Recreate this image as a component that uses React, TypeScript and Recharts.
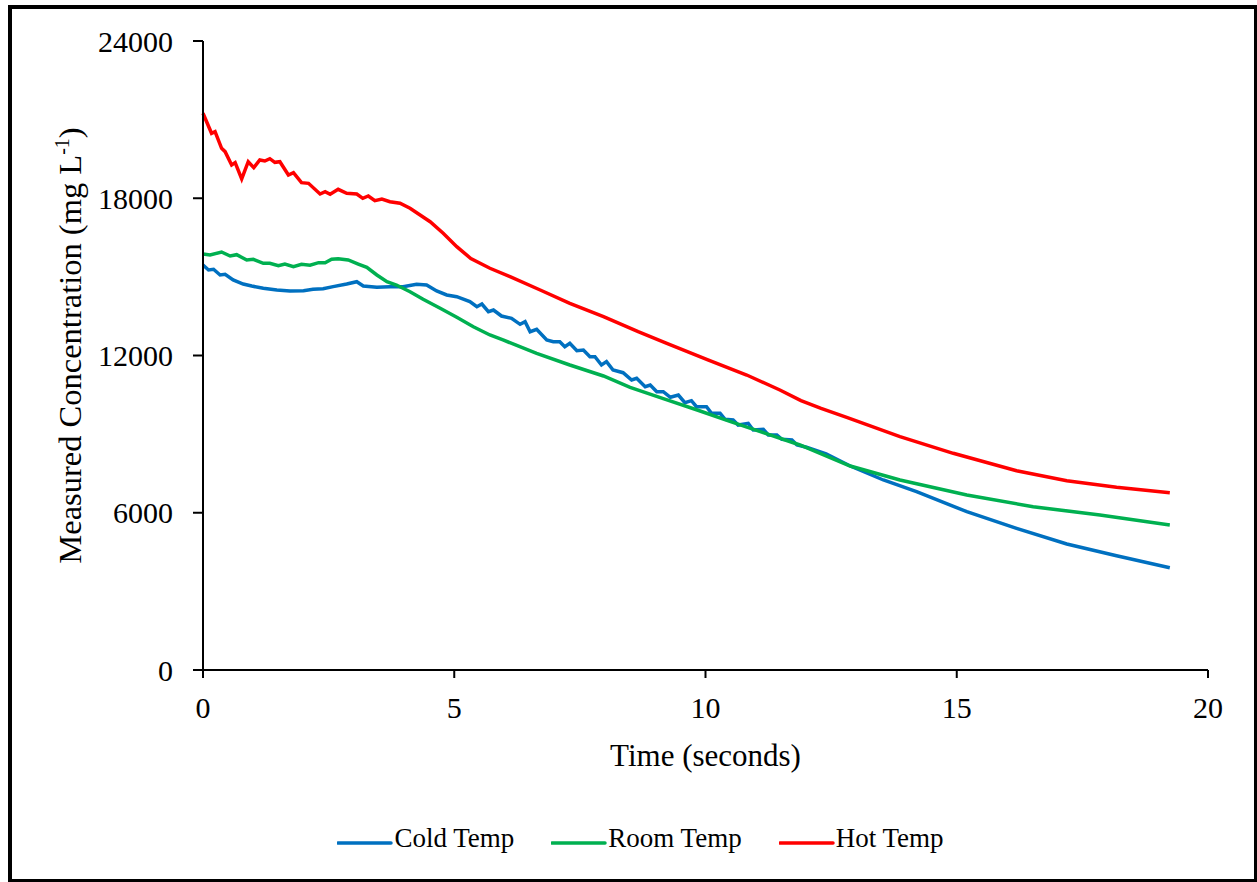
import React from "react";
import { LineChart, Line, XAxis, YAxis } from "recharts";

const FONT = '"Liberation Serif", "Times New Roman", serif';

// time in seconds, concentration in mg/L
const coldTime = [
  0, 0.11, 0.21, 0.34, 0.44, 0.6, 0.8, 0.97, 1.2, 1.47, 1.73, 2.0, 2.19, 2.39, 2.59, 2.86, 3.06, 3.19,
  3.46, 3.72, 3.98, 4.25, 4.45, 4.65, 4.85, 5.05, 5.31, 5.45, 5.55, 5.68, 5.78, 5.94, 6.14, 6.31, 6.41,
  6.51, 6.64, 6.84, 6.97, 7.1, 7.2, 7.3, 7.44, 7.57, 7.7, 7.8, 7.93, 8.03, 8.16, 8.36, 8.53, 8.63, 8.8,
  8.9, 9.03, 9.16, 9.3, 9.46, 9.59, 9.72, 9.82, 10.02, 10.12, 10.29, 10.39, 10.55, 10.65, 10.85, 10.95,
  11.15, 11.25, 11.42, 11.52, 11.72, 11.82, 12.01, 12.4, 12.88, 13.54, 14.2, 15.2, 16.19, 17.19, 18.18,
  19.24,
];
const coldValue = [
  15453, 15263, 15289, 15072, 15098, 14881, 14728, 14652, 14563, 14499, 14461, 14474, 14525, 14550,
  14627, 14728, 14816, 14652, 14601, 14627, 14627, 14716, 14690, 14461, 14309, 14244, 14055, 13862,
  13965, 13673, 13736, 13507, 13419, 13190, 13290, 12908, 13000, 12592, 12527, 12527, 12336, 12466,
  12184, 12210, 11955, 11955, 11638, 11765, 11447, 11344, 11065, 11128, 10811, 10875, 10620, 10620,
  10405, 10493, 10200, 10277, 10047, 10047, 9794, 9794, 9565, 9539, 9348, 9413, 9158, 9184, 8967,
  8967, 8803, 8776, 8585, 8497, 8250, 7784, 7250, 6804, 6041, 5406, 4808, 4362, 3904,
];

const roomTime = [
  0, 0.14, 0.37, 0.54, 0.67, 0.87, 1.0, 1.2, 1.33, 1.5, 1.63, 1.8, 1.96, 2.13, 2.3, 2.43, 2.56, 2.69,
  2.89, 3.09, 3.26, 3.46, 3.66, 3.85, 4.12, 4.38, 4.72, 5.05, 5.38, 5.71, 5.97, 6.64, 7.3, 7.97, 8.5,
  9.16, 9.85, 10.5, 11.15, 11.88, 12.88, 13.87, 15.2, 16.52, 17.85, 19.24,
];
const roomValue = [
  15873, 15835, 15949, 15797, 15847, 15644, 15670, 15518, 15518, 15427, 15491, 15389, 15480, 15442,
  15541, 15541, 15670, 15694, 15644, 15491, 15366, 15072, 14816, 14690, 14435, 14145, 13801, 13457,
  13099, 12782, 12592, 12084, 11638, 11218, 10787, 10357, 9910, 9480, 9060, 8585, 7784, 7250, 6677,
  6232, 5914, 5533,
];

const hotTime = [
  0, 0.17, 0.24, 0.37, 0.44, 0.57, 0.64, 0.77, 0.9, 1.01, 1.13, 1.23, 1.33, 1.43, 1.53, 1.7, 1.8, 1.96,
  2.1, 2.33, 2.43, 2.53, 2.69, 2.86, 3.06, 3.18, 3.29, 3.42, 3.56, 3.72, 3.92, 4.12, 4.32, 4.52, 4.78,
  5.05, 5.33, 5.71, 6.11, 6.71, 7.3, 7.97, 8.66, 9.23, 10.06, 10.82, 11.48, 11.9, 12.3, 12.81, 13.87,
  14.93, 16.19, 17.19, 18.18, 19.24,
];
const hotValue = [
  21242, 20478, 20540, 19906, 19778, 19269, 19358, 18735, 19395, 19167, 19460, 19422, 19510, 19371,
  19395, 18887, 18975, 18594, 18569, 18163, 18251, 18150, 18341, 18188, 18163, 17998, 18086, 17907,
  17972, 17869, 17808, 17617, 17361, 17106, 16663, 16152, 15700, 15328, 15007, 14500, 13992, 13481,
  12908, 12466, 11828, 11256, 10684, 10280, 9980, 9642, 8903, 8268, 7605, 7223, 6971, 6766,
];

const xTicks = [0, 5, 10, 15, 20];
const yTicks = [0, 6000, 12000, 18000, 24000];

const toPoints = (ts: number[], vs: number[]) => ts.map((t, i) => ({ t, v: vs[i] }));

const series = [
  { name: "Cold Temp", color: "#0070C0", data: toPoints(coldTime, coldValue) },
  { name: "Room Temp", color: "#00B050", data: toPoints(roomTime, roomValue) },
  { name: "Hot Temp", color: "#FF0000", data: toPoints(hotTime, hotValue) },
];

const tickStyle = { fill: "#000", fontSize: 30, fontFamily: FONT };

function XTitle({ viewBox }: any) {
  const { x, y, width } = viewBox;
  return (
    <text x={x + width / 2} y={y + 96} textAnchor="middle" fontSize={31} fontFamily={FONT} fill="#000">
      Time (seconds)
    </text>
  );
}

function YTitle({ viewBox }: any) {
  const { x, y, height } = viewBox;
  const cx = x + 70;
  const cy = y + height / 2 - 10;
  return (
    <text
      x={cx}
      y={cy + 11}
      transform={`rotate(-90, ${cx}, ${cy})`}
      textAnchor="middle"
      fontSize={32.5}
      fontFamily={FONT}
      fill="#000"
    >
      Measured Concentration (mg L
      <tspan dy={-12} fontSize={20}>-1</tspan>
      <tspan dy={12} fontSize={32.5}>)</tspan>
    </text>
  );
}

function LegendRow() {
  return (
    <div
      style={{
        position: "absolute",
        left: 12,
        top: 823,
        width: 1257,
        height: 30,
        display: "flex",
        justifyContent: "center",
        alignItems: "center",
        gap: 37,
        fontFamily: FONT,
        fontSize: 27,
        lineHeight: "30px",
        color: "#000",
      }}
    >
      {series.map((s) => (
        <div key={s.name} style={{ display: "flex", alignItems: "center" }}>
          <svg width={57} height={30}>
            <line x1={1} y1={20} x2={54} y2={20} stroke={s.color} strokeWidth={3.5} strokeLinecap="round" />
          </svg>
          <span>{s.name}</span>
        </div>
      ))}
    </div>
  );
}

export default function App() {
  return (
    <div style={{ position: "absolute", left: 0, top: 0, width: 1257, height: 882, background: "#fff" }}>
      <div
        style={{
          position: "absolute",
          left: 8,
          top: 5,
          width: 1249,
          height: 877,
          boxSizing: "border-box",
          borderTop: "4px solid #000",
          borderLeft: "4px solid #000",
          borderRight: "3px solid #000",
          borderBottom: "3px solid #000",
        }}
      />
      <div style={{ position: "absolute", left: 0, top: 0 }}>
        <LineChart width={1257} height={882} margin={{ top: 41, right: 49, bottom: 0, left: 0 }}>
          <XAxis
            type="number"
            dataKey="t"
            domain={[0, 20]}
            ticks={xTicks}
            interval={0}
            height={212}
            tick={tickStyle}
            tickSize={8}
            tickMargin={19}
            axisLine={{ stroke: "#000", strokeWidth: 2 }}
            tickLine={{ stroke: "#000", strokeWidth: 2 }}
            label={<XTitle />}
          />
          <YAxis
            type="number"
            domain={[0, 24000]}
            ticks={yTicks}
            interval={0}
            width={203}
            tick={tickStyle}
            tickSize={10}
            tickMargin={20}
            axisLine={{ stroke: "#000", strokeWidth: 2 }}
            tickLine={{ stroke: "#000", strokeWidth: 2 }}
            label={<YTitle />}
          />
          {series.map((s) => (
            <Line
              key={s.name}
              data={s.data}
              dataKey="v"
              name={s.name}
              type="linear"
              stroke={s.color}
              strokeWidth={3.5}
              dot={false}
              activeDot={false}
              isAnimationActive={false}
            />
          ))}
        </LineChart>
      </div>
      <LegendRow />
    </div>
  );
}
